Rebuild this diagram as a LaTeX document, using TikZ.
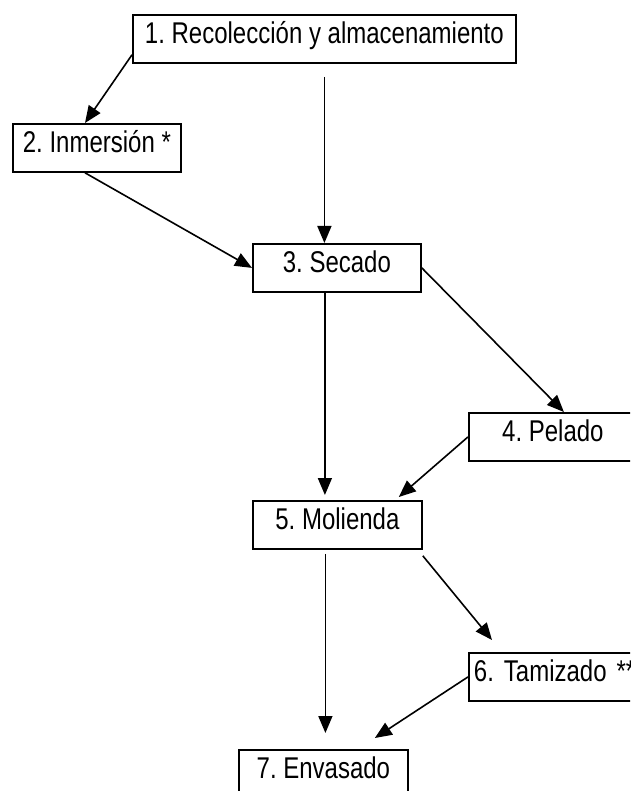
\documentclass[tikz,border=0pt]{standalone}
\usepackage{fontspec}
\newfontfamily\narrowfont{Liberation Sans}[FakeStretch=0.8]
\usetikzlibrary{arrows.meta,calc}
\begin{document}
\frenchspacing
\begin{tikzpicture}[x=1pt, y=-1pt,
 paso/.style={draw, line width=1.8pt, anchor=north west, inner xsep=0pt, inner ysep=0pt,
   text height=29pt, text depth=19pt, font=\narrowfont\fontsize{30}{32}\selectfont},
 flecha/.style={line width=1.6pt, -{Triangle[length=17pt,width=14pt]}}]
 \useasboundingbox (0,0) rectangle (630,791);
 \clip (0,0) rectangle (630,791);
 \node[paso, minimum width=383pt] (b1) at (132,14) {1. Recolección y almacenamiento};
 \node[paso, minimum width=168pt] (b2) at (12,123) {2. Inmersión *};
 \node[paso, minimum width=168pt] (b3) at (252,243) {3. Secado};
 \node[paso, minimum width=168pt] (b4) at (468,412) {4. Pelado};
 \node[paso, minimum width=169pt] (b5) at (252,500) {5. Molienda};
 \node[paso, minimum width=180pt, inner xsep=5pt, text width=175pt] (b6) at (468,652) {6. Tamizado **};
 \node[paso, minimum width=169pt] (b7) at (238,749) {7. Envasado};
 \draw[flecha] ($(b1.south west)+(0,-9)$) -- ($(b2.north west)+(73,0)$);
 \draw[flecha] ($(b1.south)+(0,13)$) -- (b1.south |- b3.north);
 \draw[flecha] ($(b2.south west)+(73,0)$) -- (b3.west);
 \draw[flecha] (b3.east) -- ($(b4.north)+(11,0)$);
 \draw[flecha] ($(b3.south)+(-12,0)$) -- ($(b3.south |- b5.north)+(-12,-5)$);
 \draw[flecha] (b4.west) -- ($(b5.north east)+(-24,-3)$);
 \draw[flecha] ($(b5.south east)+(0,6)$) -- ($(b6.north west)+(24,-12)$);
 \draw[flecha] ($(b5.south)+(-12,4)$) -- ($(b5.south |- b7.north)+(-12,-16)$);
 \draw[flecha] (b6.west) -- ($(b7.north east)+(-34,-11)$);
\end{tikzpicture}
\end{document}
